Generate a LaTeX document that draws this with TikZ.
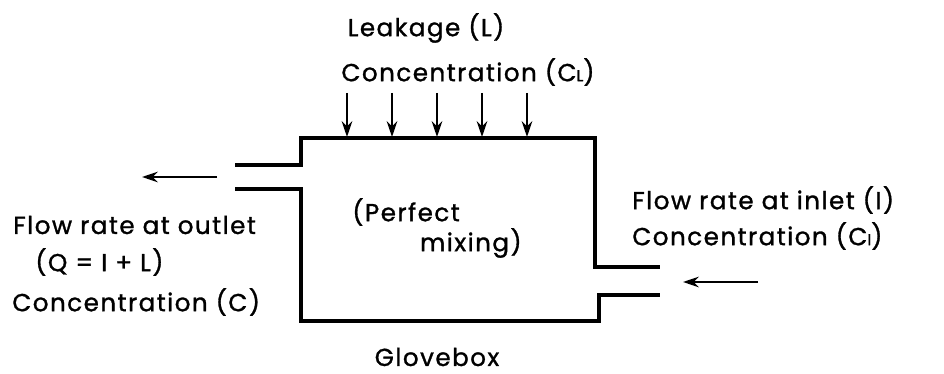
\documentclass[tikz,border=0pt]{standalone}
\usepackage{fontspec}
\setmainfont{Poppins}[LetterSpace=6,FakeBold=1.2]
\usetikzlibrary{arrows.meta}

\begin{document}
\begin{tikzpicture}[x=0.02cm,y=-0.02cm,
  wall/.style={line width=2pt,line join=miter},
  flow/.style={line width=1.4pt,-{Stealth[length=9pt,width=6pt]}},
  lbl/.style={font=\fontsize{14}{16}\selectfont,inner sep=0pt}]
\useasboundingbox (0,0) rectangle (944,374);
% glovebox walls with the two pipes
\draw[wall](235,165)--(301,165)--(301,138)--(595,138)--(595,267)--(660,267);
\draw[wall](235,189)--(301,189)--(301,321)--(599,321)--(599,295)--(660,295);
% leakage through the top
\foreach \x[count=\i] in {347,392,437,482,527}{
  \coordinate (lk\i) at (\x,93);
  \coordinate (lt\i) at (\x,137);
  \draw[flow](lk\i)--(lt\i);
}
\node[lbl](leak) at (426,28){Leakage (L)};
\node[lbl](concL) at (468,72){Concentration (C{\fontsize{9}{10}\selectfont L})};
% outlet
\coordinate (outA) at (217,177);
\coordinate (outB) at (142,177);
\draw[flow](outA)--(outB);
\node[lbl,anchor=west](qout) at (13,225){Flow rate at outlet};
\node[lbl,anchor=west](qeq) at (35,262){(Q = I + L)};
\node[lbl,anchor=west](cout) at (12,302){Concentration (C)};
% inlet
\coordinate (inA) at (758,282);
\coordinate (inB) at (683,282);
\draw[flow](inA)--(inB);
\node[lbl,anchor=west](qin) at (632,200){Flow rate at inlet (I)};
\node[lbl,anchor=west](cin) at (632,236){Concentration (C{\fontsize{9}{10}\selectfont I})};
% inside and name
\node[lbl,anchor=west](mix1) at (352,212){(Perfect};
\node[lbl,anchor=east](mix2) at (522,243){mixing)};
\node[lbl](box) at (437,357){Glovebox};
\end{tikzpicture}
\end{document}
